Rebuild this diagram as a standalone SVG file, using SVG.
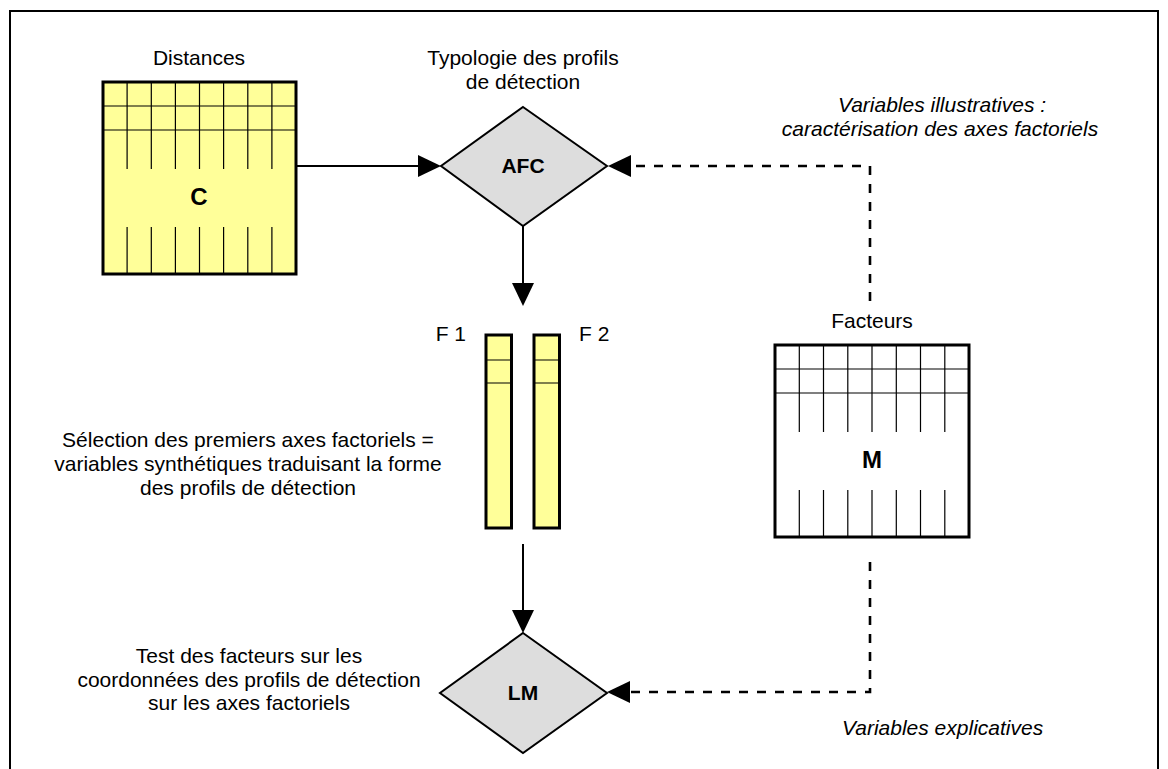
<svg xmlns="http://www.w3.org/2000/svg" width="1168" height="769" viewBox="0 0 1168 769">
<style>
text{font-family:"Liberation Sans",Arial,Helvetica,sans-serif;font-size:21px;fill:#000}
.it{font-style:italic}
.b{font-weight:bold}
.big{font-weight:bold;font-size:24px}
.box{stroke:#000;stroke-width:3}
.grid{stroke:#000;stroke-width:1.2;fill:none}
.dia{fill:#dddddd;stroke:#000;stroke-width:2}
.con{fill:none;stroke:#000;stroke-width:2}
.dash{stroke-dasharray:9 9;stroke-width:2.6}
</style>
<defs>
<marker id="ah" markerUnits="userSpaceOnUse" markerWidth="24" markerHeight="23" refX="3" refY="11" orient="auto">
<path d="M0,0 L23,11 L0,22 z" fill="#000"/>
</marker>
</defs>
<rect x="10" y="11" width="1148" height="780" fill="#fff" stroke="#000" stroke-width="2"/>

<g id="connectors">
<path class="con" d="M296,166 H421" marker-end="url(#ah)"/>
<path class="con" d="M523,226 V286" marker-end="url(#ah)"/>
<path class="con" d="M523,544 V613" marker-end="url(#ah)"/>
<path class="con dash" d="M870,301 V166 H628" marker-end="url(#ah)"/>
<path class="con dash" d="M870,562 V692 H627" marker-end="url(#ah)"/>
</g>

<g id="nodeC">
<rect class="box" x="103" y="82" width="193" height="192" fill="#ffff99"/>
<path class="grid" d="M103,106 H296 M103,130 H296 M127.1,82 V169 M151.3,82 V169 M175.4,82 V169 M199.5,82 V169 M223.6,82 V169 M247.8,82 V169 M271.9,82 V169 M127.1,227 V274 M151.3,227 V274 M175.4,227 V274 M199.5,227 V274 M223.6,227 V274 M247.8,227 V274 M271.9,227 V274"/>
<text class="big" x="199" y="205" text-anchor="middle">C</text>
<text x="199" y="65" text-anchor="middle">Distances</text>
</g>

<g id="nodeAFC">
<polygon class="dia" points="523,107 607,166 523,226 441,166"/>
<text class="b" x="523" y="173" text-anchor="middle">AFC</text>
<text x="523" y="65" text-anchor="middle">Typologie des profils</text>
<text x="523" y="89" text-anchor="middle">de détection</text>
</g>

<g id="nodeF">
<rect class="box" x="486" y="335" width="25.5" height="193" fill="#ffff99"/>
<rect class="box" x="534" y="335" width="25.5" height="193" fill="#ffff99"/>
<path class="grid" d="M486,360 H511.5 M486,383 H511.5 M534,360 H559.5 M534,383 H559.5"/>
<text x="466" y="341" text-anchor="end">F 1</text>
<text x="579" y="341">F 2</text>
<text x="248" y="447" text-anchor="middle">Sélection des premiers axes factoriels =</text>
<text x="248" y="471" text-anchor="middle">variables synthétiques traduisant la forme</text>
<text x="248" y="495" text-anchor="middle">des profils de détection</text>
</g>

<g id="nodeM">
<rect class="box" x="775" y="345" width="194" height="192" fill="#fff"/>
<path class="grid" d="M775,369 H969 M775,393 H969 M799.3,345 V432 M823.5,345 V432 M847.8,345 V432 M872,345 V432 M896.3,345 V432 M920.5,345 V432 M944.8,345 V432 M799.3,490 V537 M823.5,490 V537 M847.8,490 V537 M872,490 V537 M896.3,490 V537 M920.5,490 V537 M944.8,490 V537"/>
<text class="big" x="872" y="468" text-anchor="middle">M</text>
<text x="872" y="328" text-anchor="middle">Facteurs</text>
</g>

<g id="nodeLM">
<polygon class="dia" points="523,633 607,693 523,753 440,693"/>
<text class="b" x="523" y="700" text-anchor="middle">LM</text>
<text x="249" y="663" text-anchor="middle">Test des facteurs sur les</text>
<text x="249" y="687" text-anchor="middle">coordonnées des profils de détection</text>
<text x="249" y="710" text-anchor="middle">sur les axes factoriels</text>
</g>

<g id="labels">
<text class="it" x="942" y="112" text-anchor="middle">Variables illustratives :</text>
<text class="it" x="940" y="136" text-anchor="middle">caractérisation des axes factoriels</text>
<text class="it" x="842" y="735">Variables explicatives</text>
</g>
</svg>
